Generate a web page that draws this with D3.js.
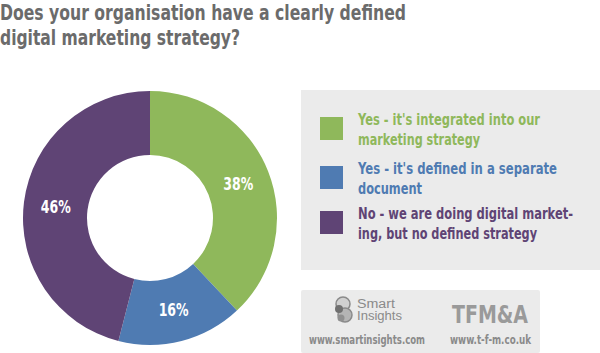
<!DOCTYPE html>
<html>
<head>
<meta charset="utf-8">
<script src="https://cdn.jsdelivr.net/npm/d3@7"></script>
<style>
  body { margin: 0; background: #fff; }
  svg { display: block; }
</style>
</head>
<body>
<svg id="chart" width="600" height="353"></svg>
<script>
const svg = d3.select("#chart"),
    width = +svg.attr("width"),
    height = +svg.attr("height");

// data
const categories = ["yes_integrated", "yes_separate", "no_strategy"];
const values = [38, 16, 46];
const legend_lines = [
    ["Yes - it's integrated into our", "marketing strategy"],
    ["Yes - it's defined in a separate", "document"],
    ["No - we are doing digital market-", "ing, but no defined strategy"]
];
const title_lines = ["Does your organisation have a clearly defined", "digital marketing strategy?"];

// widths of the lines in the reference, the font there is a condensed one
const title_w = [406, 240];
const legend_w = [[182, 122], [199, 64], [215, 179]];

const color = d3.scaleOrdinal()
    .domain(categories)
    .range(["#8fb85b", "#4f7bb2", "#5f4475"]);

const narrow = "'DejaVu Sans Condensed', 'Liberation Sans Narrow', sans-serif";

// squeeze a text to a given width
function fit(sel, w) {
    sel.attr("textLength", w).attr("lengthAdjust", "spacingAndGlyphs");
}

// title
svg.append("g").selectAll("text")
    .data(title_lines)
    .enter()
    .append("text")
    .attr("x", 0)
    .attr("y", (d, i) => 20 + i * 25)
    .text(d => d)
    .each(function(d, i) { fit(d3.select(this), title_w[i]); })
    .style("font-family", narrow)
    .style("font-weight", "bold")
    .style("font-size", "21px")
    .style("fill", "#6b6b6b");

// donut
const cx = 150, cy = 218;
const outer = 127, inner = 63;

const pie = d3.pie().sort(null).value(d => d.value);
const arc = d3.arc().innerRadius(inner).outerRadius(outer);

const slices = pie(categories.map((c, i) => ({key: c, value: values[i]})));

const g = svg.append("g").attr("transform", "translate(" + cx + "," + cy + ")");
g.selectAll("path")
    .data(slices)
    .enter()
    .append("path")
    .attr("d", arc)
    .attr("fill", d => color(d.data.key));

g.selectAll("text")
    .data(slices)
    .enter()
    .append("text")
    .attr("transform", d => "translate(" + arc.centroid(d) + ")")
    .attr("text-anchor", "middle")
    .attr("dy", "0.36em")
    .text(d => d.data.value + "%")
    .attr("textLength", 30).attr("lengthAdjust", "spacingAndGlyphs")
    .style("font-family", narrow)
    .style("font-weight", "bold")
    .style("font-size", "18px")
    .style("fill", "#fff");

// legend panel
svg.append("rect")
    .attr("x", 301).attr("y", 90)
    .attr("width", 299).attr("height", 180)
    .attr("fill", "#ebebeb");

const leg = svg.append("g").selectAll("g")
    .data(categories)
    .enter()
    .append("g")
    .attr("transform", (d, i) => "translate(320," + [117, 166, 211][i] + ")");

leg.append("rect")
    .attr("width", 23).attr("height", 23)
    .attr("fill", d => color(d));

leg.append("text")
    .attr("x", 38)
    .style("font-family", narrow)
    .style("font-weight", "bold")
    .style("font-size", "16px")
    .style("fill", d => color(d))
    .each(function(d, k) {
        d3.select(this).selectAll("tspan")
            .data(legend_lines[k])
            .enter()
            .append("tspan")
            .attr("x", 38)
            .attr("y", (t, i) => 8 + i * 20)
            .text(t => t)
            .each(function(t, i) { fit(d3.select(this), legend_w[k][i]); });
    });

// footer panel with logos
svg.append("rect")
    .attr("x", 301).attr("y", 290)
    .attr("width", 239).attr("height", 63)
    .attr("rx", 2)
    .attr("fill", "#ebebeb");

const logo = svg.append("g").attr("transform", "translate(342,310)");
logo.append("circle").attr("cx", 1).attr("cy", -6).attr("r", 7)
    .attr("fill", "#d0d0d0").attr("stroke", "#8a8a8a").attr("stroke-width", 1.5);
logo.append("circle").attr("cx", 3).attr("cy", 5).attr("r", 7)
    .attr("fill", "#b5b5b5").attr("stroke", "#8a8a8a").attr("stroke-width", 1.5);
logo.append("circle").attr("cx", -3).attr("cy", -1).attr("r", 4)
    .attr("fill", "#707070");
logo.append("circle").attr("cx", -1).attr("cy", 8).attr("r", 3.5)
    .attr("fill", "#909090");

svg.append("text").attr("x", 357).attr("y", 308).text("Smart")
    .call(fit, 38)
    .style("font-family", "'Liberation Sans', Arial, sans-serif")
    .style("font-size", "12px").style("fill", "#8a8a8a");
svg.append("text").attr("x", 357).attr("y", 320).text("Insights")
    .call(fit, 45)
    .style("font-family", "'Liberation Sans', Arial, sans-serif")
    .style("font-size", "12px").style("fill", "#8a8a8a");

svg.append("text").attr("x", 452).attr("y", 323).text("TFM&A")
    .call(fit, 76)
    .style("font-family", narrow)
    .style("font-weight", "bold")
    .style("font-size", "25px")
    .style("fill", "#9a9a9a");

svg.append("text").attr("x", 309).attr("y", 344).text("www.smartinsights.com")
    .call(fit, 116)
    .style("font-family", narrow)
    .style("font-weight", "bold")
    .style("font-size", "12px").style("fill", "#8a8a8a");
svg.append("text").attr("x", 450).attr("y", 344).text("www.t-f-m.co.uk")
    .call(fit, 81)
    .style("font-family", narrow)
    .style("font-weight", "bold")
    .style("font-size", "12px").style("fill", "#8a8a8a");
</script>
</body>
</html>
